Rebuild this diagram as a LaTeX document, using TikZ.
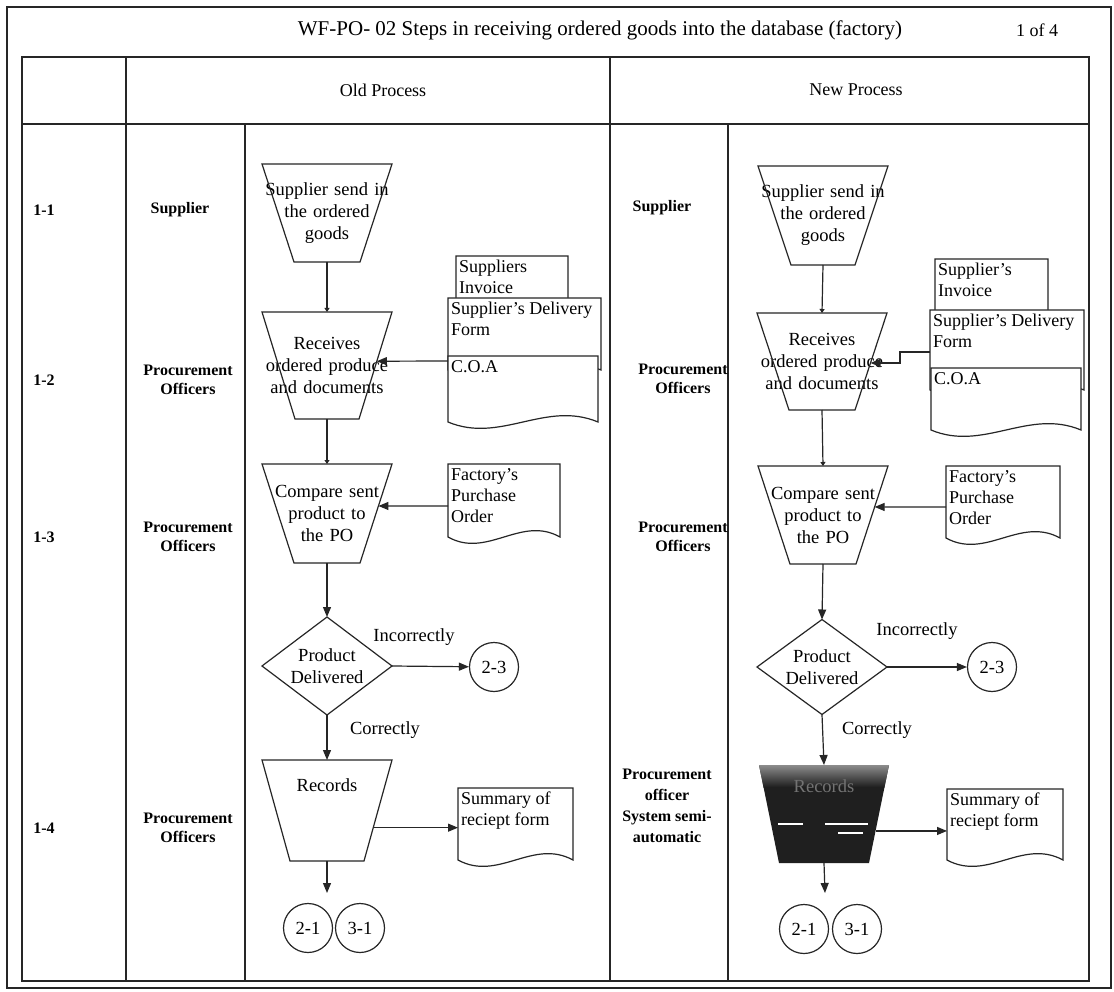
\documentclass[tikz,border=0pt]{standalone}
\usepackage{fontspec}
\setmainfont{Liberation Serif}
\usetikzlibrary{arrows.meta,calc}

\newcommand\wfshape{\fontsize{18.5}{22}\selectfont}
\newcommand\wfdoc{\fontsize{18}{21}\selectfont}
\newcommand\wfrole{\fontsize{16}{19}\selectfont\bfseries}
\newcommand\wfhead{\fontsize{18}{22}\selectfont}
\newcommand\wftitle{\fontsize{21}{24}\selectfont}

\tikzset{
  frame/.style={line width=1.5pt, draw=black!85},
  shapeline/.style={line width=1.2pt, draw=black!85},
  conn/.style={line width=1.2pt, draw=black!85, -{Triangle[length=10pt,width=8pt]}},
  tinyconn/.style={line width=1.2pt, draw=black!85, -{Triangle[length=4pt,width=5pt]}},
  trapbox/.style={rectangle, inner sep=0pt, outer sep=0pt, text width=130pt,
    align=center, font=\wfshape},
  diabox/.style={rectangle, inner sep=0pt, outer sep=0pt, minimum width=130pt,
    align=center, font=\wfshape},
  docbox/.style={rectangle, inner sep=0pt, outer sep=0pt},
  doctext/.style={inner sep=0pt, align=left, font=\wfdoc},
  onpage/.style={circle, line width=1.2pt, draw=black!85, minimum size=49pt,
    inner sep=0pt, font=\wfshape},
  rolelbl/.style={inner sep=0pt, align=center, font=\wfrole},
  edgelbl/.style={inner sep=0pt, font=\wfshape},
}

% manual-operation trapezoid: name, centre x, top y, height, inset, text
\newcommand\wftrap[6]{%
  \node[trapbox, minimum height=#4pt] (#1) at (#2,#3+#4/2) {#6};
  \coordinate (#1-br) at ($(#1.south east)+(-#5,0)$);
  \coordinate (#1-bl) at ($(#1.south west)+(#5,0)$);
  \draw[shapeline] (#1.north west) -- (#1.north east) -- (#1-br) -- (#1-bl) -- cycle;}

% document with a wavy lower edge: name, left x, top y, width, height, text
\newcommand\wfdocument[6]{%
  \node[docbox, minimum width=#4pt, minimum height=#5pt, anchor=north west] (#1) at (#2,#3) {};
  \draw[shapeline, fill=white] (#1.south west) -- (#1.north west) -- (#1.north east) -- (#1.south east)
    .. controls ($(#1.south west)!0.65!(#1.south east)+(0,-22)$)
       and ($(#1.south west)!0.35!(#1.south east)+(0,22)$) .. (#1.south west) -- cycle;
  \node[doctext, anchor=north west] (#1-t) at ($(#1.north west)+(3,4)$) {#6};}

% decision diamond: name, centre x, centre y, height, text
\newcommand\wfdiamond[5]{%
  \node[diabox, minimum height=#4pt] (#1) at (#2,#3) {#5};
  \draw[shapeline] (#1.north) -- (#1.east) -- (#1.south) -- (#1.west) -- cycle;}

\begin{document}
\begin{tikzpicture}[x=1pt,y=-1pt]
\useasboundingbox (0,0) rectangle (1114,992);
\fill[white] (0,0) rectangle (1114,992);

% ---- table frame ----
\draw[frame] (7,7) rectangle (1111,988);
\draw[frame] (22,57) rectangle (1089,981);
\draw[frame] (22,124) -- (1089,124);
\draw[frame] (126,57) -- (126,981);
\draw[frame] (610,57) -- (610,981);
\draw[frame] (245,124) -- (245,981);
\draw[frame] (728,124) -- (728,981);

\node[font=\wftitle, inner sep=0pt] (title) at (600,30) {WF-PO- 02 Steps in receiving ordered goods into the database (factory)};
\node[font=\wfhead, inner sep=0pt] (page) at (1037,30) {1 of 4};
\node[font=\wfhead, inner sep=0pt] (oldhead) at (383,90) {Old Process};
\node[font=\wfhead, inner sep=0pt] (newhead) at (856,90) {New Process};

% ---- step numbers and roles ----
\node[rolelbl] (id1) at (44,210) {1-1};
\node[rolelbl] (id2) at (44,380) {1-2};
\node[rolelbl] (id3) at (44,537) {1-3};
\node[rolelbl] (id4) at (44,828) {1-4};

\node[rolelbl] (roA1) at (180,210) {Supplier};
\node[rolelbl] (roA2) at (188,380) {Procurement\\ Officers};
\node[rolelbl] (roA3) at (188,537) {Procurement\\ Officers};
\node[rolelbl] (roA4) at (188,828) {Procurement\\ Officers};

\node[rolelbl] (roB1) at (662,208) {Supplier};
\node[rolelbl] (roB2) at (683,379) {Procurement\\ Officers};
\node[rolelbl] (roB3) at (683,537) {Procurement\\ Officers};
\node[rolelbl, font=\fontsize{16}{21}\selectfont\bfseries] (roB4) at (667,806) {Procurement\\ officer\\ System semi-\\ automatic};

% ================= old process =================
\wftrap{tA1}{327}{164}{98}{32}{Supplier send in\\ the ordered\\ goods}
\wftrap{tA2}{327}{312}{107}{33}{Receives\\ ordered produce\\ and documents}
\wftrap{tA3}{327}{464}{99}{32}{Compare sent\\ product to\\ the PO}
\wfdiamond{dA}{327}{666}{98}{Product\\ Delivered}
\wftrap{rA}{327}{760}{101}{28}{}
\node[edgelbl] (rA-t) at (327,785) {Records};

\wfdocument{invA}{456}{256}{112}{70}{Suppliers\\ Invoice}
\wfdocument{delA}{448}{298}{153}{72}{Supplier's Delivery\\ Form}
\wfdocument{coaA}{448}{356}{150}{66}{C.O.A}
\wfdocument{facA}{448}{464}{112}{73}{Factory's\\ Purchase\\ Order}
\wfdocument{sumA}{458}{788}{115}{72}{Summary of\\ reciept form}

\node[onpage] (cA23) at (494,667) {2-3};
\node[onpage] (cA21) at (308,928) {2-1};
\node[onpage] (cA31) at (360,928) {3-1};

\node[edgelbl] (incA) at (414,637) {Incorrectly};
\node[edgelbl] (corA) at (385,730) {Correctly};

\draw[tinyconn] (tA1.south) -- (tA2.north);
\draw[tinyconn] (tA2.south) -- (tA3.north);
\draw[conn] (tA3.south) -- (dA.north);
\draw[conn] (dA.east) -- (cA23);
\draw[conn] (dA.south) -- (rA.north);
\coordinate (coaA-in) at ($(coaA.north west)+(0,5)$);
\draw[conn] (coaA-in) -- ($(tA2.north east)!0.46!(tA2-br)$);
\coordinate (facA-in) at ($(facA.north west)+(0,42)$);
\draw[conn] (facA-in) -- ($(tA3.north east)!0.424!(tA3-br)$);
\coordinate (rA-out) at ($(rA.north east)!0.67!(rA-br)$);
\draw[conn] (rA-out) -- (rA-out -| sumA.west);
\coordinate (rA-end) at (327,893);
\draw[conn] (rA.south) -- (rA-end);

% ================= new process =================
\wftrap{tB1}{823}{166}{99}{33}{Supplier send in\\ the ordered\\ goods}
\wftrap{tB2}{822}{313}{97}{32}{Receives\\ ordered produce\\ and documents}
\wftrap{tB3}{823}{466}{98}{32}{Compare sent\\ product to\\ the PO}
\wfdiamond{dB}{822}{667}{95}{Product\\ Delivered}

% semi-automatic record step, shown as a dark block
\node[trapbox, minimum height=98pt] (rB) at (824,814) {};
\coordinate (rB-br) at ($(rB.south east)+(-20,0)$);
\coordinate (rB-bl) at ($(rB.south west)+(20,0)$);
\fill[black!88] (rB.north west) -- (rB.north east) -- (rB-br) -- (rB-bl) -- cycle;
\begin{scope}
  \clip (rB.north west) -- (rB.north east) -- (rB-br) -- (rB-bl) -- cycle;
  \shade[top color=black!45, bottom color=black!88] (rB.north west) rectangle ($(rB.north east)+(0,22)$);
\end{scope}
\draw[white, line width=1.6pt] (778,824) -- (803,824) (825,824) -- (868,824) (838,833) -- (863,833);
\node[edgelbl, text=black!55] (rB-t) at (824,786) {Records};

\wfdocument{invB}{935}{259}{113}{70}{Supplier's\\ Invoice}
\wfdocument{delB}{930}{310}{154}{80}{Supplier's Delivery\\ Form}
\wfdocument{coaB}{931}{368}{150}{62}{C.O.A}
\wfdocument{facB}{946}{466}{114}{72}{Factory's\\ Purchase\\ Order}
\wfdocument{sumB}{947}{789}{116}{71}{Summary of\\ reciept form}

\node[onpage] (cB23) at (992,667) {2-3};
\node[onpage] (cB21) at (804,929) {2-1};
\node[onpage] (cB31) at (857,929) {3-1};

\node[edgelbl] (incB) at (917,631) {Incorrectly};
\node[edgelbl] (corB) at (877,730) {Correctly};

\draw[tinyconn] (tB1.south) -- (tB2.north);
\draw[tinyconn] (tB2.south) -- (tB3.north);
\draw[conn] (tB3.south) -- (dB.north);
\draw[conn] (dB.east) -- (cB23);
\draw[conn] (dB.south) -- (rB.north);
\coordinate (delB-in) at ($(delB.north west)+(0,42)$);
\coordinate (tB2-in) at ($(tB2.north east)!0.515!(tB2-br)$);
\draw[conn] (delB-in) -- ++(-30,0) |- (tB2-in);
\coordinate (facB-in) at ($(facB.north west)+(0,41)$);
\draw[conn] (facB-in) -- ($(tB3.north east)!0.418!(tB3-br)$);
\coordinate (rB-out) at ($(rB.north east)!0.673!(rB-br)$);
\draw[conn] (rB-out) -- (rB-out -| sumB.west);
\coordinate (rB-end) at (825,893);
\draw[conn] (rB.south) -- (rB-end);
\end{tikzpicture}
\end{document}
